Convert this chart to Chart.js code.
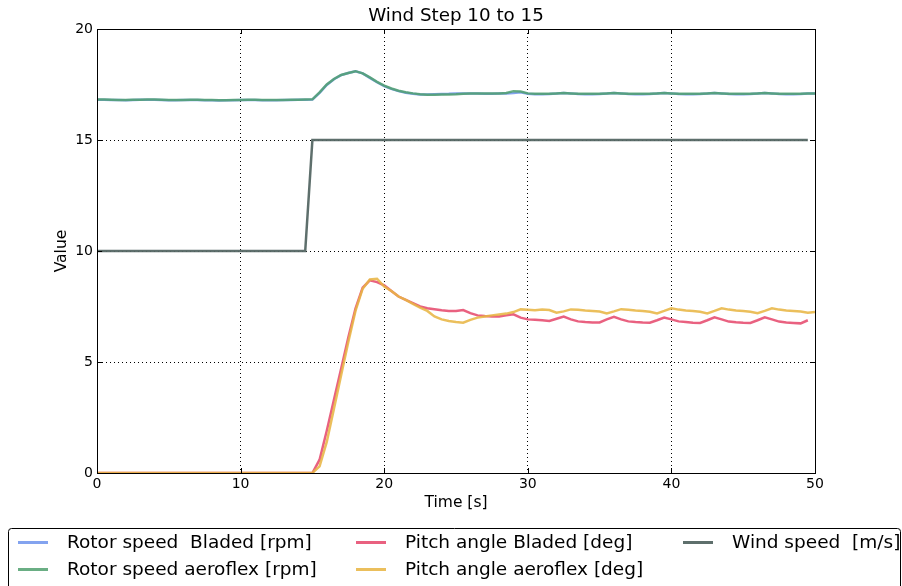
<!DOCTYPE html>
<html>
<head>
<meta charset="utf-8">
<script src="https://cdn.jsdelivr.net/npm/chart.js@4.4.1/dist/chart.umd.min.js"></script>
<style>
  html, body { margin: 0; padding: 0; background: #ffffff; }
  #wrap { width: 902px; height: 586px; }
</style>
</head>
<body>
<div id="wrap"><canvas id="c" width="902" height="586"></canvas></div>
<script>
const chartTitle = "Wind Step 10 to 15";
const xTitle = "Time [s]";
const yTitle = "Value";
const xTicks = [0, 10, 20, 30, 40, 50];
const yTicks = [0, 5, 10, 15, 20];

const times = [0,0.5,1,1.5,2,2.5,3,3.5,4,4.5,5,5.5,6,6.5,7,7.5,8,8.5,9,9.5,
  10,10.5,11,11.5,12,12.5,13,13.5,14,14.5,15,15.5,16,16.5,17,17.5,18,18.5,19,19.5,
  20,20.5,21,21.5,22,22.5,23,23.5,24,24.5,25,25.5,26,26.5,27,27.5,28,28.5,29,29.5,
  30,30.5,31,31.5,32,32.5,33,33.5,34,34.5,35,35.5,36,36.5,37,37.5,38,38.5,39,39.5,
  40,40.5,41,41.5,42,42.5,43,43.5,44,44.5,45,45.5,46,46.5,47,47.5,48,48.5,49,49.5,50];

const rotorBladed = [16.81,16.81,16.80,16.80,16.79,16.80,16.81,16.81,16.81,16.80,
  16.79,16.79,16.80,16.80,16.80,16.79,16.79,16.78,16.79,16.79,
  16.80,16.80,16.80,16.79,16.79,16.79,16.80,16.80,16.81,16.81,
  16.82,17.12,17.48,17.74,17.92,18.02,18.09,18.0,17.8,17.6,17.43,17.3,17.2,17.13,17.08,17.05,
  17.05,17.06,17.07,17.08,17.1,17.1,17.1,17.09,17.08,17.08,
  17.09,17.1,17.12,17.15,17.08,17.06,17.06,17.07,17.09,17.12,
  17.1,17.07,17.06,17.06,17.07,17.09,17.12,17.1,17.07,17.06,
  17.06,17.07,17.09,17.12,17.1,17.07,17.06,17.06,17.07,17.09,
  17.12,17.1,17.07,17.06,17.06,17.07,17.09,17.12,17.1,17.07,
  17.06,17.06,17.07,17.09,17.1];

const rotorAeroflex = [16.82,16.82,16.81,16.80,16.80,16.81,16.81,16.82,16.82,16.81,
  16.80,16.80,16.80,16.81,16.81,16.80,16.80,16.79,16.79,16.80,
  16.80,16.81,16.81,16.80,16.80,16.80,16.80,16.81,16.81,16.82,
  16.83,17.15,17.5,17.75,17.93,18.02,18.1,18.0,17.82,17.62,17.45,17.32,17.22,17.15,17.1,17.06,
  17.04,17.04,17.05,17.05,17.06,17.08,17.09,17.09,17.09,17.1,
  17.1,17.12,17.2,17.18,17.1,17.08,17.08,17.08,17.1,17.12,
  17.1,17.08,17.08,17.08,17.08,17.1,17.12,17.1,17.08,17.08,
  17.08,17.08,17.1,17.12,17.1,17.08,17.08,17.08,17.08,17.1,
  17.12,17.1,17.08,17.08,17.08,17.08,17.1,17.12,17.1,17.08,
  17.08,17.08,17.08,17.1,17.1];

const pitchBladed = [0,0,0,0,0,0,0,0,0,0, 0,0,0,0,0,0,0,0,0,0, 0,0,0,0,0,0,0,0,0,0, 0,
  0.6,1.9,3.3,4.7,6.1,7.4,8.35,8.68,8.6,8.45,
  8.2,7.95,7.8,7.65,7.5,7.42,7.38,7.33,7.3,7.3,
  7.34,7.2,7.1,7.07,7.05,7.05,7.1,7.15,7.0,6.92,
  6.9,6.88,6.85,6.95,7.05,6.92,6.83,6.8,6.78,6.78,
  6.92,7.04,6.92,6.83,6.8,6.78,6.77,6.88,7.0,6.92,
  6.83,6.8,6.77,6.76,6.88,7.01,6.92,6.82,6.79,6.77,
  6.76,6.88,7.01,6.92,6.82,6.78,6.76,6.74,6.88];

const pitchAeroflex = [0,0,0,0,0,0,0,0,0,0, 0,0,0,0,0,0,0,0,0,0, 0,0,0,0,0,0,0,0,0,0, 0,
  0.3,1.4,2.9,4.4,5.9,7.3,8.3,8.72,8.75,8.4,
  8.2,7.95,7.8,7.62,7.45,7.3,7.05,6.92,6.85,6.8,
  6.77,6.9,7.0,7.05,7.1,7.14,7.18,7.25,7.37,7.35,
  7.33,7.36,7.34,7.22,7.28,7.37,7.35,7.32,7.3,7.27,
  7.19,7.28,7.38,7.35,7.32,7.3,7.26,7.19,7.3,7.42,
  7.36,7.32,7.3,7.26,7.19,7.3,7.42,7.36,7.32,7.3,
  7.26,7.2,7.3,7.42,7.36,7.32,7.3,7.27,7.22,7.25];

const windSpeed = [10,10,10,10,10,10,10,10,10,10, 10,10,10,10,10,10,10,10,10,10,
  10,10,10,10,10,10,10,10,10,10,
  15,15,15,15,15,15,15,15,15,15, 15,15,15,15,15,15,15,15,15,15,
  15,15,15,15,15,15,15,15,15,15, 15,15,15,15,15,15,15,15,15,15,
  15,15,15,15,15,15,15,15,15,15, 15,15,15,15,15,15,15,15,15,15,
  15,15,15,15,15,15,15,15,15,15];

const seriesLabels = ["Rotor speed  Bladed [rpm]", "Rotor speed aeroflex [rpm]",
  "Pitch angle Bladed [deg]", "Pitch angle aeroflex [deg]", "Wind speed  [m/s]"];
const seriesColors = ["rgba(100,140,235,0.8)", "rgba(80,160,110,0.85)",
  "rgba(230,75,110,0.88)", "rgba(232,182,70,0.88)", "rgba(85,103,100,0.95)"];

function pts(vals) { return vals.map((v, i) => ({ x: times[i], y: v })); }

const allSeries = [rotorBladed, rotorAeroflex, pitchBladed, pitchAeroflex, windSpeed];
const drawOrder = [5, 4, 3, 2, 1];

const datasets = allSeries.map((s, i) => ({
  label: seriesLabels[i],
  data: pts(s),
  borderColor: seriesColors[i],
  backgroundColor: seriesColors[i],
  borderWidth: 2.5,
  pointRadius: 0,
  tension: 0,
  fill: false,
  order: drawOrder[i]
}));

const FONT = "'DejaVu Sans', sans-serif";

const decor = {
  id: 'decor',
  afterDraw(chart) {
    const ctx = chart.ctx;
    const a = chart.chartArea;
    const xs = chart.scales.x, ys = chart.scales.y;
    ctx.save();
    ctx.strokeStyle = '#000';
    ctx.lineWidth = 1;
    ctx.strokeRect(Math.round(a.left) + 0.5, Math.round(a.top) + 0.5,
      Math.round(a.right - a.left), Math.round(a.bottom - a.top));
    ctx.beginPath();
    xTicks.forEach(t => {
      const px = Math.round(xs.getPixelForValue(t)) + 0.5;
      ctx.moveTo(px, a.bottom); ctx.lineTo(px, a.bottom - 5);
      ctx.moveTo(px, a.top); ctx.lineTo(px, a.top + 5);
    });
    yTicks.forEach(t => {
      const py = Math.round(ys.getPixelForValue(t)) + 0.5;
      ctx.moveTo(a.left, py); ctx.lineTo(a.left + 5, py);
      ctx.moveTo(a.right, py); ctx.lineTo(a.right - 5, py);
    });
    ctx.stroke();
    ctx.fillStyle = '#000';
    ctx.textAlign = 'center';
    ctx.textBaseline = 'middle';
    ctx.font = '18.3px ' + FONT;
    ctx.fillText(chartTitle, (a.left + a.right) / 2, 16);
    ctx.font = '15.5px ' + FONT;
    ctx.fillText(xTitle, (a.left + a.right) / 2, 503);
    ctx.save();
    ctx.translate(62, (a.top + a.bottom) / 2);
    ctx.rotate(-Math.PI / 2);
    ctx.fillText(yTitle, 0, 0);
    ctx.restore();
    ctx.lineWidth = 1;
    ctx.strokeStyle = '#000';
    ctx.beginPath();
    ctx.moveTo(8.5, 600); ctx.lineTo(8.5, 531.5);
    ctx.quadraticCurveTo(8.5, 528.5, 11.5, 528.5);
    ctx.lineTo(897.5, 528.5);
    ctx.quadraticCurveTo(900.5, 528.5, 900.5, 531.5);
    ctx.lineTo(900.5, 600);
    ctx.stroke();
    const cols = [18, 356, 683];
    const rows = [542.5, 569.5];
    const layout = [[0, 0], [0, 1], [1, 0], [1, 1], [2, 0]];
    ctx.font = '18.5px ' + FONT;
    ctx.textAlign = 'left';
    ctx.textBaseline = 'middle';
    layout.forEach((p, i) => {
      const x = cols[p[0]], y = rows[p[1]];
      ctx.strokeStyle = seriesColors[i];
      ctx.lineWidth = 3;
      ctx.beginPath();
      ctx.moveTo(x, y); ctx.lineTo(x + 30, y);
      ctx.stroke();
      ctx.fillStyle = '#000';
      ctx.fillText(seriesLabels[i], x + 49, y + 1);
    });
    ctx.restore();
  }
};

new Chart(document.getElementById('c'), {
  type: 'line',
  data: { datasets },
  options: {
    responsive: false,
    animation: false,
    devicePixelRatio: 1,
    layout: { padding: { left: 0, right: 87, top: 29, bottom: 0 } },
    plugins: { legend: { display: false }, title: { display: false }, tooltip: { enabled: false } },
    scales: {
      x: {
        type: 'linear', min: 0, max: 50,
        afterFit(s) { s.height = 113; },
        afterBuildTicks(s) { s.ticks = xTicks.map(v => ({ value: v })); },
        ticks: { color: '#000', font: { family: FONT, size: 14 }, padding: 3, maxRotation: 0 },
        grid: { color: '#000', lineWidth: 1, drawTicks: false },
        border: { display: true, color: '#000', dash: [1, 3], width: 1 }
      },
      y: {
        type: 'linear', min: 0, max: 20,
        afterFit(s) { s.width = 97; },
        afterBuildTicks(s) { s.ticks = yTicks.map(v => ({ value: v })); },
        ticks: { color: '#000', font: { family: FONT, size: 14 }, padding: 4 },
        grid: { color: '#000', lineWidth: 1, drawTicks: false },
        border: { display: true, color: '#000', dash: [1, 3], width: 1 }
      }
    }
  },
  plugins: [decor]
});
</script>
</body>
</html>
